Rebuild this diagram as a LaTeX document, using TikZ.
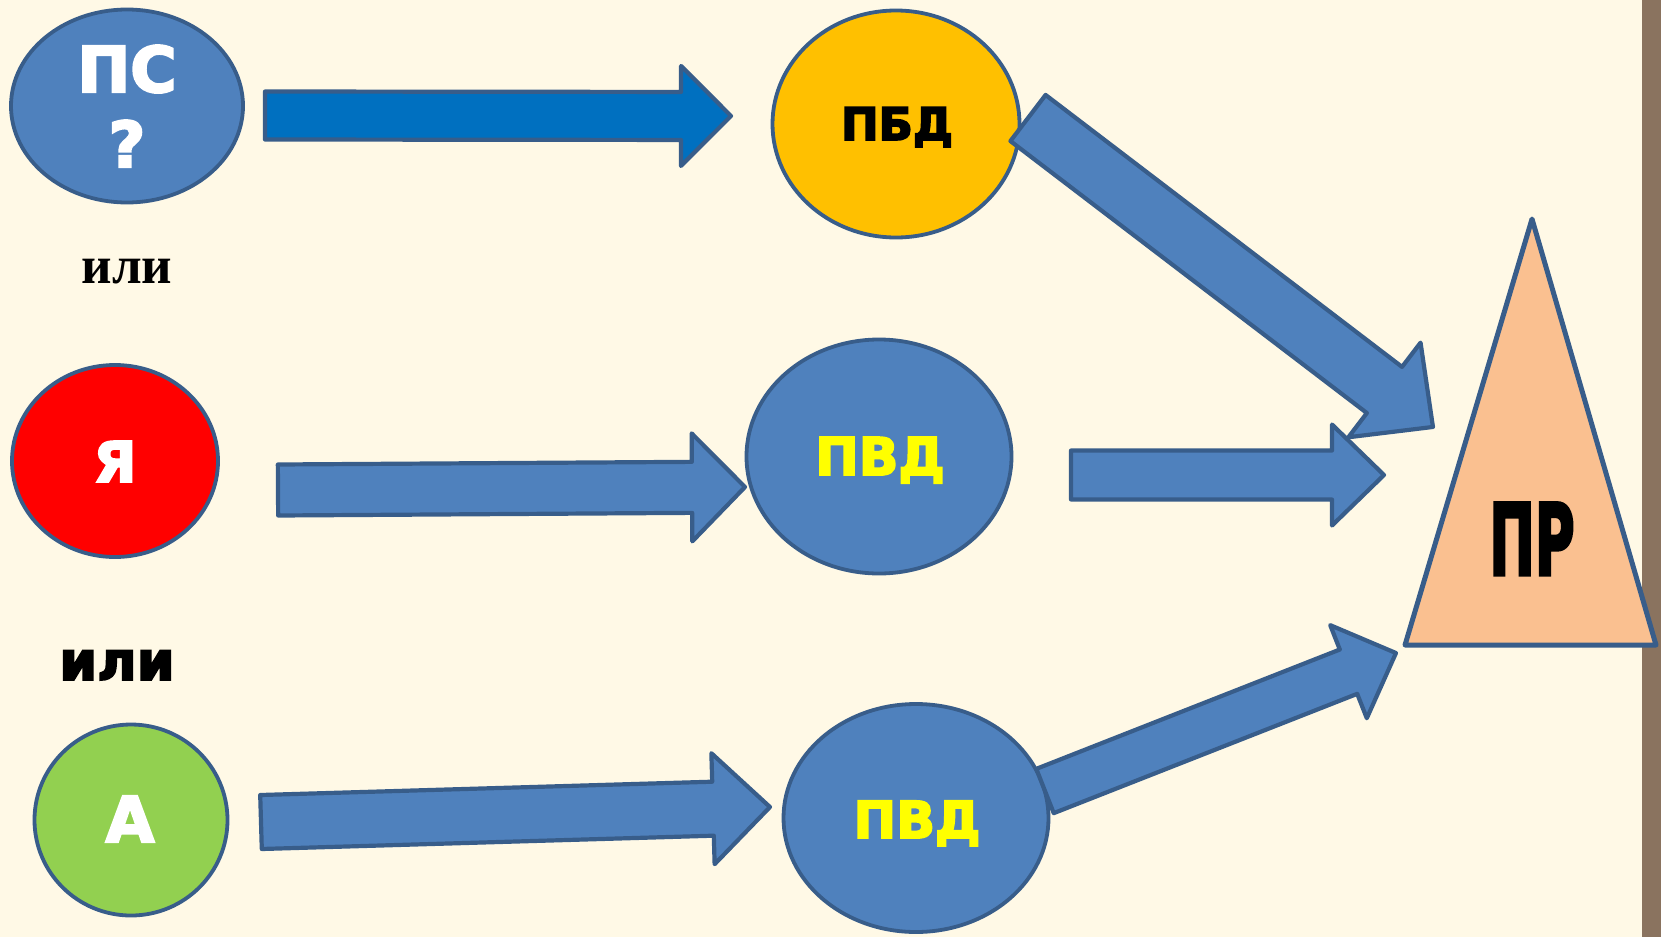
\documentclass[tikz,border=0pt]{standalone}
\usepackage{fontspec}
\usepackage{graphicx}
\setmainfont{DejaVu Sans}
\newfontfamily\heavy{DejaVu Sans Bold}[FakeBold=3.5]
\newfontfamily\orserif{Liberation Serif}
\usetikzlibrary{calc,shapes.geometric}

\definecolor{bgcream}{HTML}{FFF9E6}
\definecolor{barbrown}{HTML}{8A735F}
\definecolor{nodeblue}{HTML}{4F81BD}
\definecolor{edgeblue}{HTML}{385D8A}
\definecolor{darkarrow}{HTML}{0070C0}
\definecolor{gold}{HTML}{FFC000}
\definecolor{leaf}{HTML}{92D050}
\definecolor{peach}{HTML}{FAC090}
\definecolor{lemon}{HTML}{FFFF00}

\newcommand\fsz[1]{\fontsize{#1}{#1}\selectfont}

% block arrow from a tail coordinate to a tip coordinate:
% #2 tail, #3 tip, #4 half shaft width, #5 half head width, #6 head length
\newcommand\blockarrow[6][]{%
  \pgfpointdiff{\pgfpointanchor{#2}{center}}{\pgfpointanchor{#3}{center}}%
  \pgfgetlastxy{\baDX}{\baDY}%
  \pgfmathsetmacro\baAng{atan2(\baDY,\baDX)}%
  \pgfmathsetmacro\baLen{veclen(\baDX,\baDY)}%
  \pgfmathsetmacro\baNeck{\baLen-#6}%
  \draw[blockarrow,#1,shift={(#2)},rotate=\baAng]
    (0,-#4) -- (\baNeck,-#4) -- (\baNeck,-#5) -- (\baLen,0)
    -- (\baNeck,#5) -- (\baNeck,#4) -- (0,#4) -- cycle;
}

\tikzset{
  blob/.style={ellipse, draw=edgeblue, line width=3.8pt, inner sep=0pt},
  lab/.style={anchor=base, inner sep=0pt},
  blockarrow/.style={fill=nodeblue, draw=edgeblue, line width=4.2pt, line join=round},
}

\begin{document}
\begin{tikzpicture}[x=1pt,y=-1pt]
  \useasboundingbox (0,0) rectangle (1661,937);
  \fill[bgcream] (0,0) rectangle (1661,937);
  \fill[barbrown] (1642,0) rectangle (1661,937);

  % free ends of the block arrows
  \coordinate (a1t) at (265,115.5);  \coordinate (a1h) at (731,116);
  \coordinate (a2t) at (278,490);    \coordinate (a2h) at (745,487);
  \coordinate (a3t) at (261,822);    \coordinate (a3h) at (770,807);
  \coordinate (a4t) at (1028,118);   \coordinate (a4h) at (1433,427);
  \coordinate (a5t) at (1071,475);   \coordinate (a5h) at (1384,475);
  \coordinate (a6t) at (1045,791);   \coordinate (a6h) at (1396,653);

  % arrows lying under the circles
  \blockarrow[fill=darkarrow]{a1t}{a1h}{24}{50}{50}
  \blockarrow{a2t}{a2h}{25.5}{54}{53}
  \blockarrow{a3t}{a3h}{27}{55.5}{57}
  \blockarrow{a5t}{a5h}{24.5}{50.5}{52}

  % left column
  \node[blob, fill=nodeblue, minimum width=232, minimum height=193] (ps) at (127,106) {};
  \node[blob, fill=red, minimum width=206, minimum height=192] (ya) at (115,461) {};
  \node[blob, fill=leaf, minimum width=193, minimum height=191] (aa) at (131,820) {};

  % middle column
  \node[blob, fill=gold, minimum width=247, minimum height=227] (pbd) at (896,124) {};
  \node[blob, fill=nodeblue, minimum width=265, minimum height=234] (pvd1) at (879,456.5) {};
  \node[blob, fill=nodeblue, minimum width=265, minimum height=228] (pvd2) at (916,818) {};

  % arrows lying over the circles
  \blockarrow{a4t}{a4h}{29}{59.5}{61}
  \blockarrow{a6t}{a6h}{23.8}{50}{51}

  % result triangle
  \coordinate (prtop) at (1532,219);
  \coordinate (prleft) at (1405,645);
  \coordinate (prright) at (1656,645);
  \draw[fill=peach, draw=edgeblue, line width=5pt, line join=round]
    (prtop) -- (prleft) -- (prright) -- cycle;

  % labels
  \node[lab, text=white, font={\heavy\fsz{63}}] (pstxt) at (127,92) {ПС};
  \node[lab, text=white, font={\heavy\fsz{63}}] (psq) at (127,167) {?};
  \node[lab, text=white, font={\heavy\fsz{56}}] (yatxt) at (115,482) {Я};
  \node[lab, text=white, font={\heavy\fsz{63}}] (aatxt) at (130,842) {А};
  \node[lab, text=black, font={\heavy\fsz{45}}] (pbdtxt) at (897,140) {ПБД};
  \node[lab, text=lemon, font={\heavy\fsz{52}}] (pvd1txt) at (880,475) {ПВД};
  \node[lab, text=lemon, font={\heavy\fsz{51}}] (pvd2txt) at (917,838) {ПВД};
  \node[lab, text=black, font={\heavy\fsz{99}}] (prtxt) at (1532,575) {\scalebox{0.55}[1]{ПР}};
  \node[lab, text=black, font={\orserif\fsz{53}\bfseries}] (or1) at (127,283) {или};
  \node[lab, text=black, font={\heavy\fsz{54}}] (or2) at (117,680) {или};
\end{tikzpicture}
\end{document}
